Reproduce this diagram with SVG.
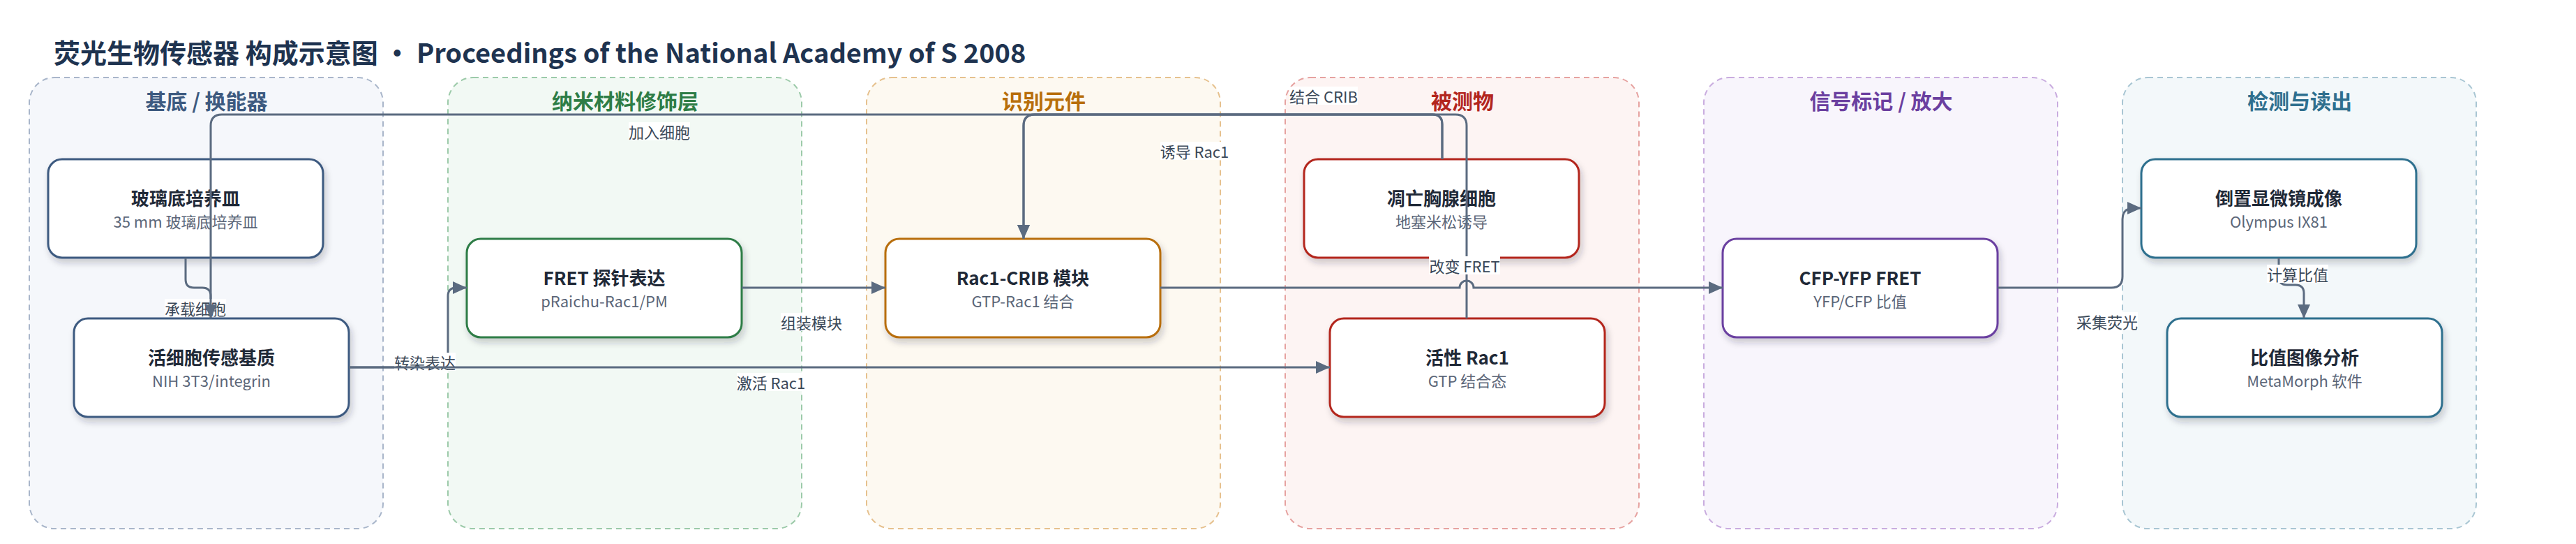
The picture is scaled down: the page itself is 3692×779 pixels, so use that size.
<svg xmlns="http://www.w3.org/2000/svg" width="3692" height="779" viewBox="0 0 3692 779">
<defs>
<style>
text{font-family:"Noto Sans CJK SC","Noto Sans",sans-serif;}
.ttl{font-size:38px;font-weight:700;fill:#1e3350;}
.gbox{stroke-width:2;stroke-dasharray:8 6;}
.gt{font-size:30px;font-weight:700;text-anchor:middle;}
.node{fill:#fff;stroke-width:3;filter:url(#sh);}
.nt{font-size:26px;font-weight:700;fill:#1f2937;text-anchor:middle;}
.ns{font-size:22px;fill:#5b6678;text-anchor:middle;}
.edge{fill:none;stroke:#5b6b80;stroke-width:3;}
.lbg{fill:#fff;}
.lt{font-size:22px;fill:#3a4858;text-anchor:middle;dominant-baseline:central;}
</style>
<marker id="arr" viewBox="0 0 20 18" refX="20" refY="9" markerWidth="20" markerHeight="18" markerUnits="userSpaceOnUse" orient="auto"><path d="M0,0 L20,9 L0,18 z" fill="#5b6b80"/></marker>
<filter id="sh" x="-10%" y="-20%" width="130%" height="150%"><feDropShadow dx="3" dy="6" stdDeviation="5" flood-color="#1e293b" flood-opacity="0.22"/></filter>
</defs>
<rect width="3692" height="779" fill="#fff"/>
<text class="ttl" x="77" y="90">荧光生物传感器 构成示意图 · Proceedings of the National Academy of S 2008</text>

<g id="group-substrate">
<rect class="gbox" x="42" y="111" width="507" height="646" rx="36" fill="#f5f7fb" stroke="#a9b6ca"/>
<text class="gt" x="296" y="156" fill="#3d5a80">基底 / 换能器</text>
</g>
<g id="group-nano">
<rect class="gbox" x="642" y="111" width="507" height="646" rx="36" fill="#f2f9f4" stroke="#9ccaa9"/>
<text class="gt" x="896" y="156" fill="#2e7d46">纳米材料修饰层</text>
</g>
<g id="group-recog">
<rect class="gbox" x="1242" y="111" width="507" height="646" rx="36" fill="#fdf9f1" stroke="#e6c18e"/>
<text class="gt" x="1496" y="156" fill="#b86e0a">识别元件</text>
</g>
<g id="group-analyte">
<rect class="gbox" x="1842" y="111" width="507" height="646" rx="36" fill="#fdf4f3" stroke="#e6a2a0"/>
<text class="gt" x="2096" y="156" fill="#b3261e">被测物</text>
</g>
<g id="group-signal">
<rect class="gbox" x="2442" y="111" width="507" height="646" rx="36" fill="#f8f5fc" stroke="#c9acdf"/>
<text class="gt" x="2696" y="156" fill="#6b3fa0">信号标记 / 放大</text>
</g>
<g id="group-detect">
<rect class="gbox" x="3042" y="111" width="507" height="646" rx="36" fill="#f3f8fa" stroke="#a9c6d3"/>
<text class="gt" x="3296" y="156" fill="#2e6f8e">检测与读出</text>
</g>

<g id="node-dish">
<rect class="node" x="69" y="228" width="394" height="141" rx="20" stroke="#3d5a80"/>
<text class="nt" x="266" y="294">玻璃底培养皿</text>
<text class="ns" x="266" y="326">35 mm 玻璃底培养皿</text>
</g>
<g id="node-matrix">
<rect class="node" x="106" y="456" width="394" height="141" rx="20" stroke="#3d5a80"/>
<text class="nt" x="303" y="522">活细胞传感基质</text>
<text class="ns" x="303" y="554">NIH 3T3/integrin</text>
</g>
<g id="node-fret-probe">
<rect class="node" x="669" y="342" width="394" height="141" rx="20" stroke="#2e7d46"/>
<text class="nt" x="866" y="408">FRET 探针表达</text>
<text class="ns" x="866" y="440">pRaichu-Rac1/PM</text>
</g>
<g id="node-crib">
<rect class="node" x="1269" y="342" width="394" height="141" rx="20" stroke="#b86e0a"/>
<text class="nt" x="1466" y="408">Rac1-CRIB 模块</text>
<text class="ns" x="1466" y="440">GTP-Rac1 结合</text>
</g>
<g id="node-thymocyte">
<rect class="node" x="1869" y="228" width="394" height="141" rx="20" stroke="#b3261e"/>
<text class="nt" x="2066" y="294">凋亡胸腺细胞</text>
<text class="ns" x="2066" y="326">地塞米松诱导</text>
</g>
<g id="node-rac1">
<rect class="node" x="1906" y="456" width="394" height="141" rx="20" stroke="#b3261e"/>
<text class="nt" x="2103" y="522">活性 Rac1</text>
<text class="ns" x="2103" y="554">GTP 结合态</text>
</g>
<g id="node-cfp-yfp">
<rect class="node" x="2469" y="342" width="394" height="141" rx="20" stroke="#6b3fa0"/>
<text class="nt" x="2666" y="408">CFP-YFP FRET</text>
<text class="ns" x="2666" y="440">YFP/CFP 比值</text>
</g>
<g id="node-microscope">
<rect class="node" x="3069" y="228" width="394" height="141" rx="20" stroke="#2e6f8e"/>
<text class="nt" x="3266" y="294">倒置显微镜成像</text>
<text class="ns" x="3266" y="326">Olympus IX81</text>
</g>
<g id="node-ratio">
<rect class="node" x="3106" y="456" width="394" height="141" rx="20" stroke="#2e6f8e"/>
<text class="nt" x="3303" y="522">比值图像分析</text>
<text class="ns" x="3303" y="554">MetaMorph 软件</text>
</g>

<g id="connectors">
<path class="edge" marker-end="url(#arr)" d="M266,369 V400 Q266,412 278,412 H290 Q302,412 302,424 V456"/>
<rect class="lbg" x="236" y="428" width="88" height="26"/>
<text class="lt" x="280" y="441">承载细胞</text>

<path class="edge" marker-end="url(#arr)" d="M500,526 H630 Q642,526 642,514 V424 Q642,412 654,412 H669"/>
<rect class="lbg" x="565" y="505" width="88" height="26"/>
<text class="lt" x="609" y="518">转染表达</text>

<path class="edge" marker-end="url(#arr)" d="M1063,412 H1269"/>
<rect class="lbg" x="1119" y="448" width="88" height="26"/>
<text class="lt" x="1163" y="461">组装模块</text>

<path class="edge" marker-end="url(#arr)" d="M2102,456 V180 Q2102,164 2086,164 H1483 Q1467,164 1467,180 V342"/>
<rect class="lbg" x="1848" y="124" width="98" height="26"/>
<text class="lt" x="1897" y="137">结合 CRIB</text>

<path class="edge" marker-end="url(#arr)" d="M1663,412 H2092 A10,10 0 0 1 2112,412 H2469"/>
<rect class="lbg" x="2048" y="367" width="102" height="26"/>
<text class="lt" x="2099" y="380">改变 FRET</text>

<path class="edge" marker-end="url(#arr)" d="M2067,228 V178 Q2067,164 2053,164 H318 Q302,164 302,180 V456"/>
<rect class="lbg" x="901" y="175" width="88" height="26"/>
<text class="lt" x="945" y="188">加入细胞</text>

<path class="edge" marker-end="url(#arr)" d="M2067,228 V178 Q2067,164 2053,164 H1483 Q1467,164 1467,180 V342"/>
<rect class="lbg" x="1663" y="203" width="98" height="26"/>
<text class="lt" x="1712" y="216">诱导 Rac1</text>

<path class="edge" marker-end="url(#arr)" d="M500,526 H1906"/>
<rect class="lbg" x="1056" y="534" width="98" height="26"/>
<text class="lt" x="1105" y="547">激活 Rac1</text>

<path class="edge" marker-end="url(#arr)" d="M2863,412 H3026 Q3042,412 3042,396 V314 Q3042,298 3058,298 H3069"/>
<rect class="lbg" x="2976" y="447" width="88" height="26"/>
<text class="lt" x="3020" y="460">采集荧光</text>

<path class="edge" marker-end="url(#arr)" d="M3266,369 V396 Q3266,408 3278,408 H3290 Q3302,408 3302,420 V456"/>
<rect class="lbg" x="3249" y="379" width="88" height="26"/>
<text class="lt" x="3293" y="392">计算比值</text>
</g>
</svg>
